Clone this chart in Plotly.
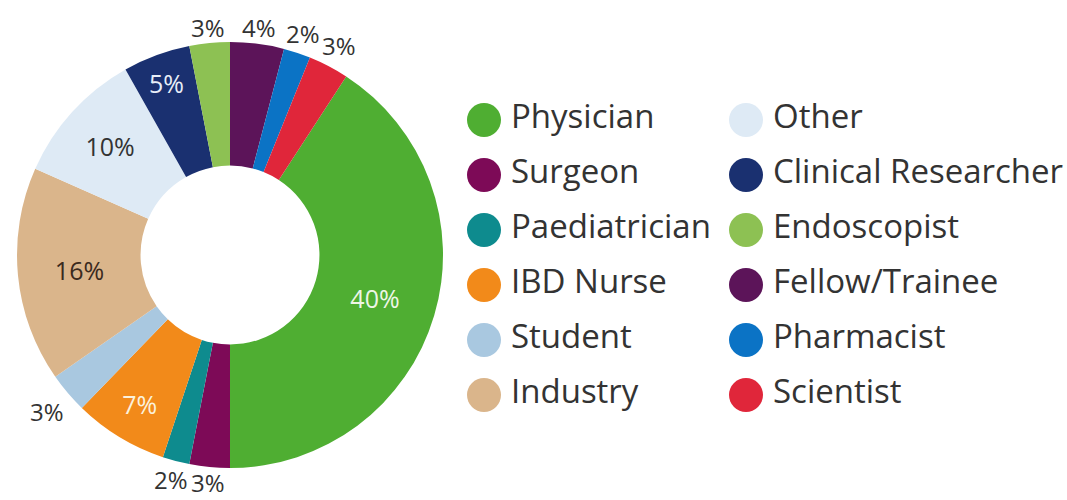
import math
import plotly.graph_objects as go

# ---- data ----
categories = ["Physician", "Surgeon", "Paediatrician", "IBD Nurse", "Student", "Industry",
              "Other", "Clinical Researcher", "Endoscopist", "Fellow/Trainee", "Pharmacist", "Scientist"]
values = [40, 3, 2, 7, 3, 16, 10, 5, 3, 4, 2, 3]
colors = ["#4fae32", "#7d0a57", "#0e8b8e", "#f28a1a", "#a9c8e0", "#dab58b",
          "#deeaf5", "#1a3070", "#8dc153", "#5c1459", "#0b73c5", "#e0263a"]
label_outside = [False, True, True, False, True, False,
                 False, False, True, True, True, True]
text_col = ["#eef6e6", "#333333", "#333333", "#fbf1dc", "#333333", "#3a2a1e",
            "#333333", "#e8eef8", "#333333", "#333333", "#333333", "#333333"]

W, H = 1067, 500
FONT = "Open Sans"
PCT_SIZE = 25
OUT_SIZE = 24

# pie geometry (pixels)
cx, cy, r = 230, 255, 213
total = sum(values)
# the first slice (Physician) starts after the last three small slices at the top
start_angle = sum(values[-3:]) / total * 360

fig = go.Figure()
fig.add_trace(go.Pie(
    labels=categories, values=values, sort=False, direction="clockwise",
    rotation=start_angle, hole=0.42,
    marker=dict(colors=colors, line=dict(width=0)),
    texttemplate="%{value}%",
    textposition=["none" if o else "inside" for o in label_outside],
    insidetextorientation="horizontal",
    textfont=dict(family=FONT, size=PCT_SIZE, color=text_col),
    showlegend=False, hoverinfo="label+value",
    domain=dict(x=[(cx - r) / W, (cx + r) / W], y=[(H - cy - r) / H, (H - cy + r) / H]),
))

# ---- outside percentage labels, positioned from the slice angles ----
acc = start_angle
for cat, v, out in zip(categories, values, label_outside):
    span = v / total * 360
    mid = math.radians(acc + span / 2)
    acc += span
    if not out:
        continue
    s, c = math.sin(mid), math.cos(mid)
    rad = r + 3 + abs(s) * 24 + abs(c) * 10
    px, py = cx + rad * s, cy - rad * c
    fig.add_annotation(x=px / W, y=1 - py / H, xref="paper", yref="paper",
                       text=f"{v}%", showarrow=False, xanchor="center", yanchor="middle",
                       font=dict(family=FONT, size=OUT_SIZE, color="#333333"))

# ---- legend (two columns, drawn as markers + text) ----
col_x = [484, 746]
row_y0, row_gap = 120, 55
lx = [col_x[i // 6] for i in range(len(categories))]
ly = [row_y0 + (i % 6) * row_gap for i in range(len(categories))]
fig.add_trace(go.Scatter(
    x=lx, y=ly, mode="markers", marker=dict(size=34, color=colors, line=dict(width=0)),
    showlegend=False, hoverinfo="skip", xaxis="x", yaxis="y",
))
fig.add_trace(go.Scatter(
    x=[v + 27 for v in lx], y=ly, mode="text", text=categories, textposition="middle right",
    textfont=dict(family=FONT, size=33, color="#333333"),
    showlegend=False, hoverinfo="skip", xaxis="x", yaxis="y", cliponaxis=False,
))

fig.update_layout(
    width=W, height=H, margin=dict(l=0, r=0, t=0, b=0, autoexpand=False),
    paper_bgcolor="white", plot_bgcolor="rgba(0,0,0,0)",
    xaxis=dict(range=[0, W], visible=False, fixedrange=True, domain=[0, 1]),
    yaxis=dict(range=[H, 0], visible=False, fixedrange=True, domain=[0, 1]),
)
fig.write_html("out.html", config={"displayModeBar": False},
               post_script="document.body.style.margin='0';document.body.style.overflow='hidden';")
